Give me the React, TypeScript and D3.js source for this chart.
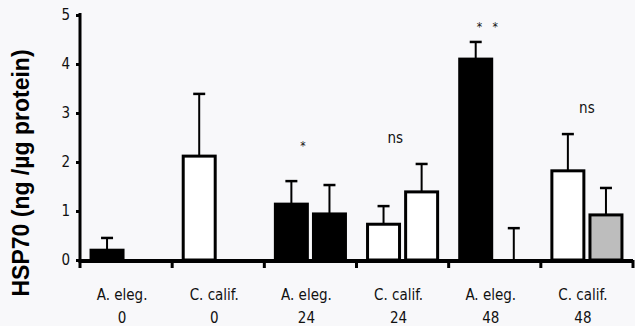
import React, { useRef, useEffect } from 'react';
import * as d3 from 'd3';

// groups along the x axis (species / hours)
const species = ["A. eleg.", "C. calif.", "A. eleg.", "C. calif.", "A. eleg.", "C. calif."];
const hours = ["0", "0", "24", "24", "48", "48"];

// first bar of each group
const firstValues = [0.2, 2.12, 1.14, 0.73, 4.1, 1.82];
const firstErrors = [0.45, 3.39, 1.61, 1.1, 4.45, 2.57];
const firstFills = ["#000", "#fff", "#000", "#fff", "#000", "#fff"];

// second bar of each group (null = no bar drawn)
const secondValues = [null, null, 0.94, 1.39, 0, 0.92];
const secondErrors = [null, null, 1.53, 1.96, 0.65, 1.47];
const secondFills = ["#000", "#000", "#000", "#fff", "#000", "#bdbdbd"];

// significance marks over groups and the level they sit at
const marks = ["", "", "*", "ns", "* *", "ns"];
const markLevel = [0, 0, 2.39, 2.5, 4.83, 3.1];

const yTicks = [0, 1, 2, 3, 4, 5];

const App = () => {
    const svgRef = useRef(null);

    useEffect(() => {
        const svgWidth = 635;
        const svgHeight = 326;
        const margin = { top: 15, left: 80, right: 2, bottom: 66 };

        const svg = d3.select(svgRef.current)
            .attr("width", svgWidth)
            .attr("height", svgHeight);
        svg.selectAll("*").remove();

        svg.append("rect").attr("width", svgWidth).attr("height", svgHeight).attr("fill", "#f8f8fa");

        const groups = species.map((s, i) => i);

        const x = d3.scaleBand()
            .domain(groups)
            .range([margin.left, svgWidth - margin.right]);

        const inner = d3.scaleBand()
            .domain(["a", "b"])
            .range([0, x.bandwidth()])
            .paddingInner(0.16)
            .paddingOuter(0.29);

        const y = d3.scaleLinear()
            .domain([0, 5])
            .range([svgHeight - margin.bottom, margin.top]);

        const condensed = "'Liberation Sans Narrow', 'DejaVu Sans Condensed', 'Liberation Sans', sans-serif";

        const bars = [];
        groups.forEach((g) => {
            bars.push({ g, slot: "a", v: firstValues[g], e: firstErrors[g], fill: firstFills[g] });
            if (secondValues[g] !== null) {
                bars.push({ g, slot: "b", v: secondValues[g], e: secondErrors[g], fill: secondFills[g] });
            }
        });

        const plot = svg.append("g");

        plot.selectAll("rect.bar")
            .data(bars.filter(d => d.v > 0))
            .enter()
            .append("rect")
            .attr("class", "bar")
            .attr("x", d => x(d.g) + inner(d.slot))
            .attr("y", d => y(d.v))
            .attr("width", inner.bandwidth())
            .attr("height", d => y(0) - y(d.v))
            .attr("fill", d => d.fill)
            .attr("stroke", "#000")
            .attr("stroke-width", 3);

        // error bars (upper only)
        const errs = bars.filter(d => d.e !== null);
        const cx = d => x(d.g) + inner(d.slot) + inner.bandwidth() / 2;
        plot.selectAll("line.err")
            .data(errs)
            .enter()
            .append("line")
            .attr("x1", cx)
            .attr("x2", cx)
            .attr("y1", d => y(d.v))
            .attr("y2", d => y(d.e))
            .attr("stroke", "#000")
            .attr("stroke-width", 2);

        plot.selectAll("line.cap")
            .data(errs)
            .enter()
            .append("line")
            .attr("x1", d => cx(d) - 6)
            .attr("x2", d => cx(d) + 6)
            .attr("y1", d => y(d.e))
            .attr("y2", d => y(d.e))
            .attr("stroke", "#000")
            .attr("stroke-width", 2.5);

        // significance text
        plot.selectAll("text.mark")
            .data(groups.filter(g => marks[g] !== ""))
            .enter()
            .append("text")
            .attr("x", g => x(g) + x.bandwidth() * (g === 5 ? 0.5 : 0.42))
            .attr("y", g => y(markLevel[g]))
            .attr("dy", g => marks[g] === "ns" ? "0.35em" : "0.6em")
            .attr("text-anchor", "middle")
            .attr("font-family", condensed)
            .attr("font-size", g => marks[g] === "ns" ? 15 : 12)
            .attr("fill", "#111")
            .attr("xml:space", "preserve")
            .text(g => marks[g] === "* *" ? "*   *" : marks[g]);

        // y axis
        const yAxis = svg.append("g")
            .attr("transform", `translate(${margin.left},0)`)
            .call(d3.axisLeft(y).tickValues(yTicks).tickFormat(d3.format("d")).tickSize(4).tickPadding(6));
        yAxis.select(".domain").attr("stroke-width", 3).attr("d", `M0,${y(5) - 2}V${y(0) + 2}`);
        yAxis.selectAll(".tick line").attr("stroke-width", 3);
        yAxis.selectAll(".tick text")
            .attr("font-family", condensed)
            .attr("font-size", 15)
            .attr("fill", "#111");

        // x axis line and ticks at group edges
        const xAxis = svg.append("g");
        xAxis.append("line")
            .attr("x1", margin.left - 1.5)
            .attr("x2", svgWidth - margin.right)
            .attr("y1", y(0) + 1)
            .attr("y2", y(0) + 1)
            .attr("stroke", "#000")
            .attr("stroke-width", 4);

        const edges = groups.map(g => x(g)).concat([x(groups[groups.length - 1]) + x.bandwidth()]);
        xAxis.selectAll("line.tick")
            .data(edges)
            .enter()
            .append("line")
            .attr("x1", d => d)
            .attr("x2", d => d)
            .attr("y1", y(0))
            .attr("y2", y(0) + 8)
            .attr("stroke", "#000")
            .attr("stroke-width", 3);

        const labels = xAxis.selectAll("g.lab")
            .data(groups)
            .enter()
            .append("g")
            .attr("transform", g => `translate(${x(g) + x.bandwidth() / 2 - 4},0)`);
        labels.append("text")
            .attr("y", y(0) + 40)
            .attr("text-anchor", "middle")
            .attr("font-family", condensed)
            .attr("font-size", 15)
            .attr("fill", "#111")
            .text(g => species[g]);
        labels.append("text")
            .attr("y", y(0) + 63)
            .attr("text-anchor", "middle")
            .attr("font-family", condensed)
            .attr("font-size", 15)
            .attr("fill", "#111")
            .text(g => hours[g]);

        // y axis title
        svg.append("text")
            .attr("transform", `translate(29,${173}) rotate(-90)`)
            .attr("text-anchor", "middle")
            .attr("font-family", "'Liberation Sans', Arial, sans-serif")
            .attr("font-weight", "bold")
            .attr("font-size", 23)
            .attr("fill", "#000")
            .text("HSP70 (ng /µg protein)");
    }, []);

    return (
        <div style={{ position: "absolute", left: 0, top: 0 }}>
            <svg ref={svgRef} style={{ display: "block" }} />
        </div>
    );
};

export default App;
